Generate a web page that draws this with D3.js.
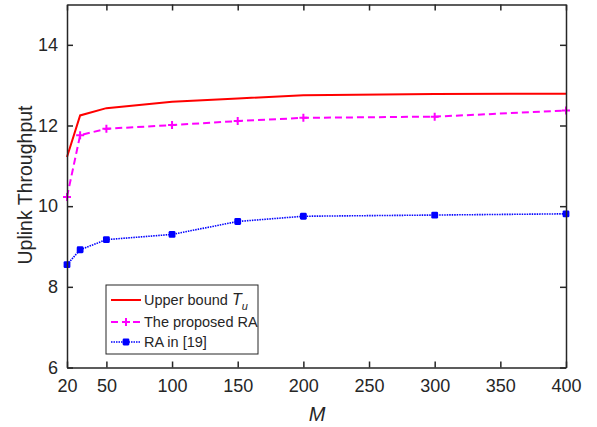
<!DOCTYPE html>
<html>
<head>
<meta charset="utf-8">
<script src="https://cdn.jsdelivr.net/npm/d3@7"></script>
<style>
  body { margin: 0; background: #fff; }
  text { font-family: "Liberation Sans", Arial, sans-serif; fill: #262626; }
</style>
</head>
<body>
<svg id="chart" width="597" height="427"></svg>
<script>
// Values
const mValues = [20, 30, 50, 100, 150, 200, 300, 400];
const upperBound = [11.22, 12.25, 12.43, 12.59, 12.67, 12.75, 12.78, 12.79];
const proposedRA = [10.23, 11.76, 11.92, 12.01, 12.11, 12.19, 12.22, 12.37];
const raIn19 = [8.55, 8.92, 9.17, 9.30, 9.62, 9.75, 9.78, 9.81];

const xTicks = [20, 50, 100, 150, 200, 250, 300, 350, 400];
const yTicks = [6, 8, 10, 12, 14];

const svg = d3.select('#chart');

// Plot area
const plotLeft = 67, plotRight = 566, plotTop = 4.5, plotBottom = 367.5;

const x = d3.scaleLinear().domain([20, 400]).range([plotLeft, plotRight]);
const y = d3.scaleLinear().domain([6, 15]).range([plotBottom, plotTop]);

const axisColor = '#262626';

// Lines
const line = d3.line()
    .x((d, i) => x(mValues[i]))
    .y(d => y(d));

const plot = svg.append('g');

plot.append('path')
    .datum(upperBound)
    .attr('d', line)
    .attr('fill', 'none')
    .attr('stroke', '#ff0000')
    .attr('stroke-width', 2);

plot.append('path')
    .datum(proposedRA)
    .attr('d', line)
    .attr('fill', 'none')
    .attr('stroke', '#ff00ff')
    .attr('stroke-width', 2)
    .attr('stroke-dasharray', '7,4');

plot.append('path')
    .datum(raIn19)
    .attr('d', line)
    .attr('fill', 'none')
    .attr('stroke', '#0000ff')
    .attr('stroke-width', 1.6)
    .attr('stroke-dasharray', '1.5,1');

// Markers
function plusPath(cx, cy, r) {
    return `M${cx - r},${cy}H${cx + r}M${cx},${cy - r}V${cy + r}`;
}

plot.selectAll('.plus')
    .data(proposedRA)
    .join('path')
    .attr('class', 'plus')
    .attr('d', (d, i) => plusPath(x(mValues[i]), y(d), 4))
    .attr('stroke', '#ff00ff')
    .attr('stroke-width', 2)
    .attr('fill', 'none');

plot.selectAll('.sq')
    .data(raIn19)
    .join('rect')
    .attr('class', 'sq')
    .attr('x', (d, i) => x(mValues[i]) - 3.4)
    .attr('y', d => y(d) - 3.4)
    .attr('width', 6.8)
    .attr('height', 6.8)
    .attr('rx', 1.3)
    .attr('fill', '#0000ff');

// Axes (box with inward ticks on all sides)
const axisBottom = d3.axisBottom(x).tickValues(xTicks).tickSizeInner(-6).tickSizeOuter(0).tickPadding(12);
const axisTop = d3.axisTop(x).tickValues(xTicks).tickSizeInner(-6).tickSizeOuter(0).tickFormat('');
const axisLeft = d3.axisLeft(y).tickValues(yTicks).tickSizeInner(-6).tickSizeOuter(0).tickPadding(9);
const axisRight = d3.axisRight(y).tickValues(yTicks).tickSizeInner(-6).tickSizeOuter(0).tickFormat('');

function styleAxis(g) {
    g.select('.domain').attr('stroke', axisColor).attr('stroke-width', 1.5);
    g.selectAll('.tick line').attr('stroke', axisColor).attr('stroke-width', 1.5);
    g.selectAll('.tick text')
        .attr('font-size', 18)
        .attr('font-family', '"Liberation Sans", Arial, sans-serif')
        .attr('fill', axisColor);
}

svg.append('g').attr('transform', `translate(0,${plotBottom})`).call(axisBottom).call(styleAxis);
svg.append('g').attr('transform', `translate(0,${plotTop})`).call(axisTop).call(styleAxis);
svg.append('g').attr('transform', `translate(${plotLeft},0)`).call(axisLeft).call(styleAxis);
svg.append('g').attr('transform', `translate(${plotRight},0)`).call(axisRight).call(styleAxis);

// Axis labels
svg.append('text')
    .attr('x', 317)
    .attr('y', 421)
    .attr('text-anchor', 'middle')
    .attr('font-size', 20)
    .attr('font-style', 'italic')
    .text('M');

svg.append('text')
    .attr('transform', 'translate(32,185) rotate(-90)')
    .attr('text-anchor', 'middle')
    .attr('font-size', 19.5)
    .text('Uplink Throughput');

// Legend
const legend = svg.append('g');
legend.append('rect')
    .attr('x', 106)
    .attr('y', 285)
    .attr('width', 152)
    .attr('height', 69)
    .attr('fill', '#fff')
    .attr('stroke', axisColor)
    .attr('stroke-width', 1);

const legendRows = [
    { y: 300, color: '#ff0000', dash: null, width: 2, marker: null },
    { y: 322, color: '#ff00ff', dash: '7,4', width: 2, marker: 'plus' },
    { y: 342, color: '#0000ff', dash: '1.5,1', width: 1.6, marker: 'square' }
];

legendRows.forEach(r => {
    legend.append('line')
        .attr('x1', 111).attr('x2', 141)
        .attr('y1', r.y).attr('y2', r.y)
        .attr('stroke', r.color)
        .attr('stroke-width', r.width)
        .attr('stroke-dasharray', r.dash);
    if (r.marker === 'plus') {
        legend.append('path')
            .attr('d', plusPath(126, r.y, 4))
            .attr('stroke', r.color)
            .attr('stroke-width', 2);
    } else if (r.marker === 'square') {
        legend.append('rect')
            .attr('x', 126 - 3.4).attr('y', r.y - 3.4)
            .attr('width', 6.8).attr('height', 6.8)
            .attr('rx', 1.3)
            .attr('fill', r.color);
    }
});

const t1 = legend.append('text').attr('x', 144).attr('y', 305).attr('font-size', 14.5);
t1.append('tspan').text('Upper bound ');
t1.append('tspan').attr('font-style', 'italic').attr('font-size', 16).text('T');
t1.append('tspan').attr('font-style', 'italic').attr('font-size', 11).attr('dy', 5).text('u');

legend.append('text').attr('x', 144).attr('y', 327).attr('font-size', 14.5).text('The proposed RA');
legend.append('text').attr('x', 144).attr('y', 347).attr('font-size', 14.5).text('RA in [19]');
</script>
</body>
</html>
